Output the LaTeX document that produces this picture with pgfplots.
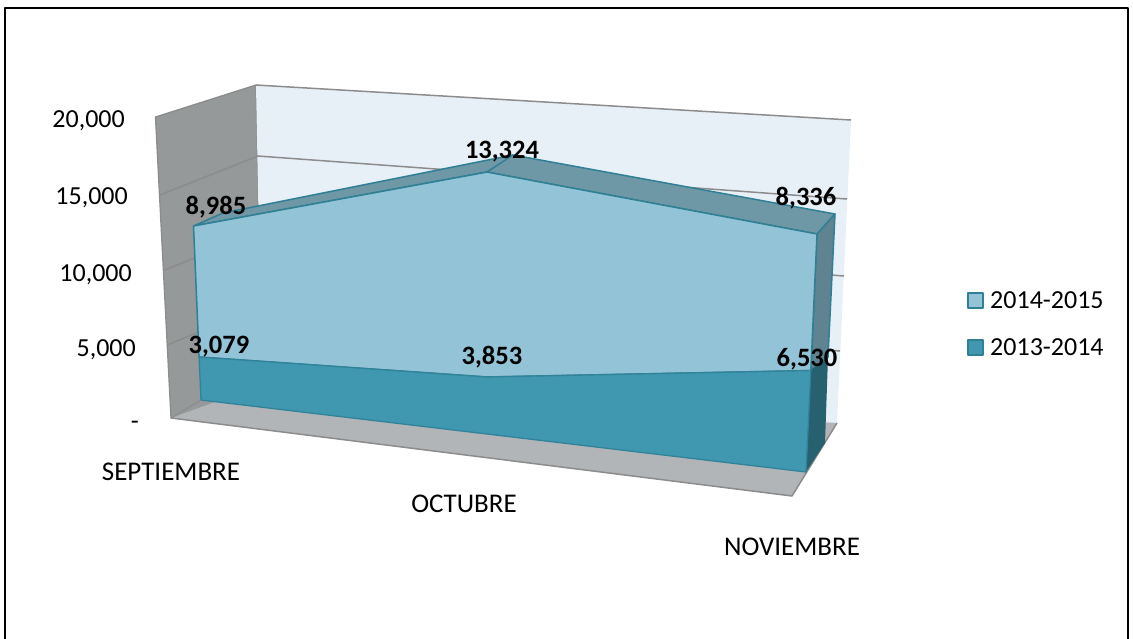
\documentclass[border=0pt]{standalone}
\usepackage{pgfplots}
\usepackage{pgfplotstable}
\usepackage{fontspec}
\setmainfont{Carlito}
\pgfplotsset{compat=1.18}
\definecolor{wallL}{HTML}{959999}
\definecolor{wallB}{HTML}{E8F0F7}
\definecolor{floorc}{HTML}{B1B5B8}
\definecolor{gridc}{HTML}{8C8C8C}
\definecolor{hiF}{HTML}{93C3D6}
\definecolor{hiT}{HTML}{6F98A6}
\definecolor{hiS}{HTML}{5F8390}
\definecolor{loF}{HTML}{3F98B0}
\definecolor{loS}{HTML}{27616F}
\definecolor{edge}{HTML}{2F7F95}
% values: lo = 2013-2014, hi = 2014-2015
% front face projection: px = x0 + dx*v, py = base - k*v
\pgfplotstableread{
x0 dx base k v
201 -0.00062 400 0.01397 3079
487 0 434 0.0148 3853
806 0.00074 472 0.01554 6530
806 0 472 0 0
487 0 434 0 0
201 0 400 0 0
}\lofront
\pgfplotstableread{
x0 dx base k v
201 -0.00062 400 0.014423 12064
487 0 434 0.01525 17177
806 0.00074 472 0.01601 14866
806 0.00074 472 0.01554 6530
487 0 434 0.0148 3853
201 -0.00062 400 0.01397 3079
}\hifront
\begin{document}
\begin{tikzpicture}
\useasboundingbox (0,0) rectangle (1133pt,638pt);
\begin{scope}
\clip (0,0) rectangle (1133pt,638pt);
\begin{axis}[
  at={(0,0)},anchor=south west,
  width=1133pt,height=638pt,scale only axis,
  xmin=0,xmax=1133,ymin=0,ymax=638,y dir=reverse,
  axis lines=none,clip=false,
  every axis plot/.append style={line join=round},
]
% frame (open at the foot, as in the source)
\addplot[draw=black,line width=2pt] coordinates {(5,645)(5,7.5)(1128,7.5)(1128,645)};
% left wall, back wall, floor
\addplot[fill=wallL,draw=gridc,line width=1.3pt] coordinates {(155.5,117)(256,85)(262,395)(171,418)} --cycle;
\addplot[fill=wallB,draw=none] coordinates {(256,85)(851,120)(837,423)(262,395)} --cycle;
\addplot[gridc,line width=1.5pt] coordinates {(256,85)(851,120)};
\addplot[gridc,line width=1.5pt] coordinates {(160,195)(258,156)(847,199)};
\addplot[gridc,line width=1.5pt] coordinates {(165,270)(260,231)(844,276)};
\addplot[gridc,line width=1.5pt] coordinates {(167,345)(261,307)(840,351)};
\addplot[fill=floorc,draw=none] coordinates {(171,418)(262,385)(837,423)(792,496)} --cycle;
\addplot[gridc,line width=1.5pt] coordinates {(171,418)(792,496)(837,423)};
\addplot[gridc,line width=1pt] coordinates {(171,418)(201,400)};
% depth faces
\addplot[fill=hiT,draw=edge,line width=1.5pt] coordinates {(193.5,226)(223,213)(513,155)(835,214)(817,234)(487,172)} --cycle;
\addplot[edge,line width=1.5pt] coordinates {(487,172)(513,155)};
\addplot[fill=hiS,draw=edge,line width=1.5pt] coordinates {(817,234)(835,214)(828,357)(811,370)} --cycle;
\addplot[fill=loS,draw=none] coordinates {(811,370)(828,357)(825,443)(806,472)} --cycle;
% front faces
\addplot[fill=hiF,draw=edge,line width=1.5pt] table[x expr=\thisrow{x0}+\thisrow{dx}*\thisrow{v},y expr=\thisrow{base}-\thisrow{k}*\thisrow{v}] {\hifront} --cycle;
\addplot[fill=loF,draw=edge!85!loF,line width=1.3pt] table[x expr=\thisrow{x0}+\thisrow{dx}*\thisrow{v},y expr=\thisrow{base}-\thisrow{k}*\thisrow{v}] {\lofront} --cycle;
% y tick labels
\node[anchor=east,inner sep=0pt,font=\fontsize{26}{26}\selectfont] at (axis cs:125,121) {20,000};
\node[anchor=east,inner sep=0pt,font=\fontsize{26}{26}\selectfont] at (axis cs:128,198) {15,000};
\node[anchor=east,inner sep=0pt,font=\fontsize{26}{26}\selectfont] at (axis cs:132,275) {10,000};
\node[anchor=east,inner sep=0pt,font=\fontsize{26}{26}\selectfont] at (axis cs:136,350) {5,000};
\node[anchor=east,inner sep=0pt,font=\fontsize{26}{26}\selectfont] at (axis cs:139,425) {-};
% categories
\node[font=\fontsize{27}{27}\selectfont] at (axis cs:171,472) {SEPTIEMBRE};
\node[font=\fontsize{27}{27}\selectfont] at (axis cs:464,504) {OCTUBRE};
\node[font=\fontsize{27}{27}\selectfont] at (axis cs:792,547) {NOVIEMBRE};
% data labels
\foreach \x/\y/\t in {216/207/{8,985},502/152/{13,324},806/198/{8,336},219/347/{3,079},492/357/{3,853},807/359/{6,530}}{
  \edef\tmp{\noexpand\node[font=\noexpand\bfseries\noexpand\fontsize{26.5}{26.5}\noexpand\selectfont] at (axis cs:\x,\y) {\t};}\tmp
}
% legend
\addplot[fill=hiF,draw=edge,line width=1.5pt] coordinates {(968,293)(983,293)(983,308)(968,308)} --cycle;
\addplot[fill=loF,draw=edge,line width=1.5pt] coordinates {(968,340)(983,340)(983,355)(968,355)} --cycle;
\node[anchor=west,inner sep=0pt,font=\fontsize{26}{26}\selectfont] at (axis cs:990,300) {2014-2015};
\node[anchor=west,inner sep=0pt,font=\fontsize{26}{26}\selectfont] at (axis cs:990,347) {2013-2014};
\end{axis}
\end{scope}
\end{tikzpicture}
\end{document}
